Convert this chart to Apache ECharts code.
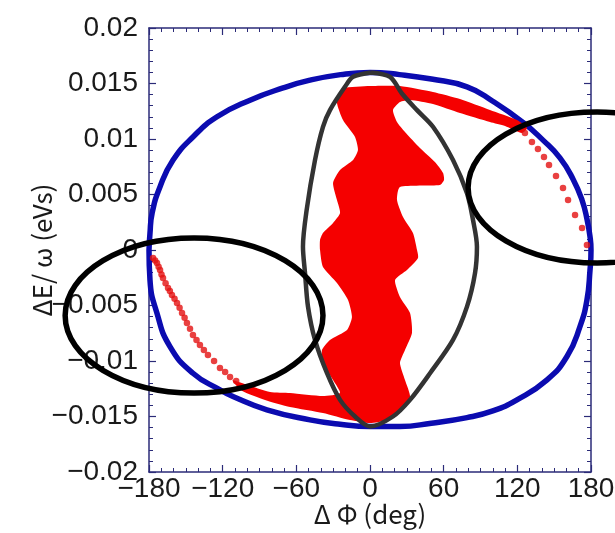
<!DOCTYPE html>
<html><head><meta charset="utf-8">
<script src="https://cdn.jsdelivr.net/npm/echarts@6/dist/echarts.min.js"></script>
<style>html,body{margin:0;padding:0;background:#fff}#c{width:615px;height:533px}</style>
</head><body><div id="c"></div>
<script>
// ---- tick labels ----
const xTickValues = [-180, -120, -60, 0, 60, 120, 180];
const xTickLabels = ['\u2212180', '\u2212120', '\u221260', '0', '60', '120', '180'];
const yTickValues = [-0.02, -0.015, -0.01, -0.005, 0, 0.005, 0.01, 0.015, 0.02];
const yTickLabels = ['\u22120.02', '\u22120.015', '\u22120.01', '\u22120.005', '0', '0.005', '0.01', '0.015', '0.02'];

// ---- blue boundary (ΔΦ deg, ΔE/ω eVs) ----
const blueCurve = [
  [-180, 0], [-179.2, 0.0015], [-177.5, 0.0033], [-171, 0.0057], [-160.4, 0.0081], [-144, 0.0102],
  [-124.6, 0.0120], [-97.7, 0.0135], [-70.8, 0.0146], [-48.9, 0.0153], [-24, 0.0158], [0, 0.0160],
  [24, 0.0158], [50, 0.0154], [79, 0.0147], [100, 0.0134], [124.6, 0.0115], [140.9, 0.0099],
  [154.7, 0.0083], [165.3, 0.0064], [172.7, 0.0045], [176.7, 0.0028], [179.2, 0.0012], [180, 0],
  [179.2, -0.0018], [176.7, -0.0045], [171, -0.0069], [160.4, -0.0096], [144.2, -0.0117],
  [119.7, -0.0135], [100, -0.0145], [79, -0.0151], [50, -0.0156], [24.4, -0.0159], [0, -0.0159],
  [-24.4, -0.0157], [-48.9, -0.0153], [-84, -0.0144], [-111.6, -0.0132], [-122.2, -0.0126],
  [-144.2, -0.0111], [-162.9, -0.0087], [-173.5, -0.0057], [-179.2, -0.0027], [-180, 0]
];

// ---- red particle region outline ----
const redRegion = [
  [-24.4, 0.01424], [-22.0, 0.0146], [0, 0.01478], [24.4, 0.01478], [51.3, 0.01424], [73.3, 0.0136],
  [97.7, 0.01261], [119.7, 0.01171], [127.9, 0.01099], [123.8, 0.01054], [110.0, 0.01117],
  [97.7, 0.01153], [73.3, 0.01234], [51.3, 0.01315], [32.6, 0.01351], [24.4, 0.01333],
  [18.7, 0.01261], [22.0, 0.01153], [28.5, 0.01063], [40.7, 0.00919], [52.9, 0.00793],
  [59.5, 0.00694], [60.3, 0.00631], [57.0, 0.00586], [24.4, 0.00568], [22.0, 0.0045],
  [26.9, 0.00297], [35.0, 0.00153], [38.3, 0], [39.1, -0.00072], [30.1, -0.0018], [20.4, -0.0027],
  [24.4, -0.00423], [32.6, -0.00568], [34.2, -0.00748], [28.5, -0.00901], [24.4, -0.01018],
  [28.5, -0.01171], [32.6, -0.01324], [24.4, -0.01441], [13.8, -0.01532], [0, -0.01559],
  [-16.3, -0.01532], [-38.3, -0.01468], [-65.2, -0.01414], [-85.5, -0.01351], [-104, -0.0127],
  [-112, -0.01175], [-100, -0.01216], [-81.4, -0.01279], [-65.2, -0.01288], [-38.3, -0.01315], [-24.4, -0.01288],
  [-30.1, -0.01171], [-38.3, -0.01018], [-39.1, -0.00901], [-32.6, -0.00811], [-18.7, -0.00721],
  [-14.7, -0.00604], [-17.9, -0.0045], [-26.9, -0.00297], [-38.3, -0.00153], [-40.7, 0],
  [-40.7, 0.0009], [-38.3, 0.00153], [-30.1, 0.00243], [-24.4, 0.00333], [-26.9, 0.0045],
  [-30.1, 0.00604], [-24.4, 0.00721], [-13.8, 0.00811], [-9.8, 0.00901], [-12.2, 0.01018],
  [-22.0, 0.01171], [-26.9, 0.01324]
];

// ---- red scattered particles along the boundary ----
const redDots = [
  [126.2, 0.01054], [131.9, 0.00973], [136.8, 0.0091], [141.7, 0.00838], [145.8, 0.00766],
  [151.5, 0.00667], [157.2, 0.00559], [161.3, 0.0045], [167.0, 0.00315], [172.7, 0.00198],
  [176.7, 0.00045],
  [-176.7, -0.00072], [-175.0, -0.00095], [-173.5, -0.00117], [-172.2, -0.0015], [-171.0, -0.0018],
  [-169.8, -0.0022], [-168.6, -0.00252], [-166.5, -0.0030], [-164.5, -0.00342], [-163.0, -0.0037],
  [-161.3, -0.00405], [-159.2, -0.0044], [-157.2, -0.00478], [-155.1, -0.0052], [-153.1, -0.00568],
  [-151.0, -0.0061], [-149.1, -0.00658], [-146.6, -0.0071], [-144.2, -0.00766], [-141.3, -0.0081],
  [-138.5, -0.00856], [-135.3, -0.0090], [-132.0, -0.00946], [-127.0, -0.0100], [-122.2, -0.01063],
  [-118.0, -0.0110], [-114.0, -0.01144], [-109.0, -0.0118]
];

// ---- dark grey contour ----
const greyCurve = [
  [0.8, 0.0160], [16.3, 0.0156], [26, 0.0141], [38.3, 0.0126], [51.3, 0.0111], [67.6, 0.0081],
  [79, 0.0051], [83.9, 0.0027], [87.1, 0.0003], [85.5, -0.0021], [79, -0.0051], [67.6, -0.0081],
  [48.9, -0.0111], [32.6, -0.0135], [18.7, -0.0150], [0, -0.0159], [-12.2, -0.0150],
  [-24.4, -0.0135], [-35, -0.0111], [-44.8, -0.0081], [-50.5, -0.0051], [-52.9, -0.0021],
  [-54.6, 0.0003], [-51.6, 0.0036], [-44.8, 0.0081], [-38.3, 0.0111], [-32.6, 0.0126],
  [-20.4, 0.0147], [-13.8, 0.0156], [0.8, 0.0160]
];

// ---- hand-drawn annotation ellipses: centre and half-axes in data units ----
const markCenters = [[-143.3, -0.0059], [184.9, 0.00563]];
const markRadii = [[105, 0.00698], [105, 0.0068]];

const axisColor = '#2b2b78';
const labelFont = '"Liberation Sans", sans-serif';
const nameFont = '"Noto Sans CJK JP", "Noto Sans", sans-serif';

function yFmt(v) {
  const i = Math.round((v - yTickValues[0]) / 0.005);
  return yTickLabels[i] !== undefined ? yTickLabels[i] : '';
}
function xFmt(v) {
  const i = Math.round((v - xTickValues[0]) / 60);
  return xTickLabels[i] !== undefined ? xTickLabels[i] : '';
}

function makeX(pos, main) {
  return {
    type: 'value', position: pos, min: -180, max: 180, interval: 60,
    axisLine: { show: true, onZero: false, lineStyle: { color: axisColor, width: 1.5 } },
    axisTick: { show: true, inside: true, length: 7, lineStyle: { color: axisColor, width: 1.2 } },
    minorTick: { show: true, splitNumber: 6, length: 4, lineStyle: { color: axisColor, width: 1 } },
    splitLine: { show: false },
    axisLabel: main ? { show: true, formatter: xFmt, fontFamily: labelFont, fontSize: 28, color: '#1a1a1a', margin: 3 } : { show: false },
    name: main ? '\u0394 \u03A6 (deg)' : '',
    nameLocation: 'middle', nameGap: 29, nameMoveOverlap: false,
    nameTextStyle: { fontFamily: nameFont, fontSize: 26, color: '#1a1a1a' }
  };
}
function makeY(pos, main) {
  return {
    type: 'value', position: pos, min: -0.02, max: 0.02, interval: 0.005,
    axisLine: { show: true, onZero: false, lineStyle: { color: axisColor, width: 1.5 } },
    axisTick: { show: true, inside: true, length: 7, lineStyle: { color: axisColor, width: 1.2 } },
    minorTick: { show: true, splitNumber: 5, length: 4, lineStyle: { color: axisColor, width: 1 } },
    splitLine: { show: false },
    axisLabel: main ? { show: true, formatter: yFmt, fontFamily: labelFont, fontSize: 28, color: '#1a1a1a', margin: 11 } : { show: false },
    name: main ? '\u0394E/ \u03C9 (eVs)' : '',
    nameLocation: 'middle', nameGap: 94, nameRotate: 90, nameMoveOverlap: false,
    nameTextStyle: { fontFamily: nameFont, fontSize: 26, color: '#1a1a1a' }
  };
}

const chart = echarts.init(document.getElementById('c'), null, { renderer: 'canvas' });
chart.setOption({
  animation: false,
  backgroundColor: '#ffffff',
  grid: { left: 149, right: 24, top: 28, bottom: 61, containLabel: false, outerBoundsMode: 'none' },
  xAxis: [makeX('bottom', true), makeX('top', false)],
  yAxis: [makeY('left', true), makeY('right', false)],
  series: [
    {
      type: 'line', data: blueCurve, symbol: 'none', smooth: 0.5, z: 2,
      lineStyle: { color: '#0b0bb0', width: 5.5 }
    },
    {
      type: 'custom', data: redRegion, z: 3, clip: true,
      renderItem: function (params, api) {
        if (params.dataIndex !== 0) return null;
        const pts = redRegion.map(p => api.coord(p));
        return { type: 'polygon', shape: { points: pts, smooth: 0.2 }, style: { fill: '#f50000' } };
      }
    },
    {
      type: 'scatter', data: redDots, symbol: 'circle', symbolSize: 6.5, z: 3,
      itemStyle: { color: '#e41010' }
    },
    {
      type: 'line', data: greyCurve, symbol: 'none', smooth: 0.3, z: 4,
      lineStyle: { color: '#333333', width: 4.5 }
    },
    {
      type: 'custom', data: markCenters, z: 5, clip: false,
      renderItem: function (params, api) {
        const c = api.coord(markCenters[params.dataIndex]);
        const s = api.size(markRadii[params.dataIndex]);
        return { type: 'ellipse', shape: { cx: c[0], cy: c[1], rx: s[0], ry: s[1] },
                 style: { fill: 'none', stroke: '#000000', lineWidth: 5.5 } };
      }
    }
  ]
});
</script></body></html>
